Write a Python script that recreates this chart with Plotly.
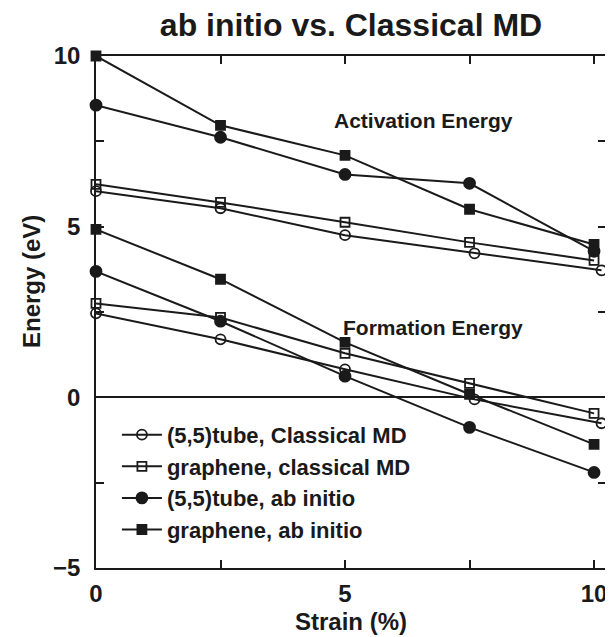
import plotly.graph_objects as go

strain = [0, 2.5, 5, 7.5, 10]
strain_tube_md = [0, 2.5, 5, 7.6, 10.15]

# Activation energies (eV)
act_tube_md = [6.04, 5.54, 4.75, 4.22, 3.72]
act_graph_md = [6.24, 5.71, 5.13, 4.54, 4.01]
act_tube_ai = [8.56, 7.62, 6.53, 6.27, 4.28]
act_graph_ai = [10.0, 7.97, 7.09, 5.51, 4.48]

# Formation energies (eV)
form_tube_md = [2.46, 1.70, 0.82, -0.06, -0.76]
form_graph_md = [2.75, 2.34, 1.29, 0.41, -0.47]
form_tube_ai = [3.69, 2.23, 0.62, -0.88, -2.20]
form_graph_ai = [4.92, 3.46, 1.61, 0.09, -1.38]

names = ["(5,5)tube, Classical MD", "graphene, classical MD",
         "(5,5)tube, ab initio", "graphene, ab initio"]
xs = [strain_tube_md, strain, strain, strain]
acts = [act_tube_md, act_graph_md, act_tube_ai, act_graph_ai]
forms = [form_tube_md, form_graph_md, form_tube_ai, form_graph_ai]
symbols = ["circle-open", "square-open", "circle", "square"]
sizes = [10, 9, 11, 9]

INK = "#1a1a1a"
FONT = "Liberation Sans, Arial, Helvetica, sans-serif"

fig = go.Figure()
for i in range(4):
    for j, ys in enumerate([acts[i], forms[i]]):
        fig.add_trace(go.Scatter(
            x=xs[i], y=ys, mode="lines+markers", name=names[i],
            legendgroup=names[i], showlegend=(j == 0),
            line=dict(color=INK, width=2),
            marker=dict(symbol=symbols[i], size=sizes[i], color=INK,
                        line=dict(color=INK, width=1.8)),
            cliponaxis=False,
        ))

fig.add_annotation(x=6.58, y=8.12, text="Activation Energy", showarrow=False,
                   font=dict(family=FONT, size=21, color=INK, weight="bold"))
fig.add_annotation(x=6.76, y=2.05, text="Formation Energy", showarrow=False,
                   font=dict(family=FONT, size=21, color=INK, weight="bold"))
# y-axis title (placed slightly above the plot centre, as in the reference)
fig.add_annotation(xref="paper", yref="paper", x=-64 / 512, y=0.559,
                   text="Energy (eV)", textangle=-90, showarrow=False,
                   xanchor="center", yanchor="middle",
                   font=dict(family=FONT, size=24, color=INK, weight="bold"))

fig.update_layout(
    width=605, height=629,
    margin=dict(l=88, r=5, t=48, b=69),
    paper_bgcolor="white", plot_bgcolor="white",
    font=dict(family=FONT, color=INK),
    title=dict(text="ab initio vs. Classical MD", x=0.5, xref="paper", xanchor="center",
               y=1 - 17 / 629, yanchor="middle", yref="container",
               font=dict(family=FONT, size=32, color=INK, weight="bold")),
    showlegend=True,
    legend=dict(x=21 / 512, y=0.301, xanchor="left", yanchor="top",
                bgcolor="rgba(0,0,0,0)", tracegroupgap=0, itemwidth=40,
                font=dict(family=FONT, size=22, color=INK, weight="bold")),
)
fig.update_xaxes(
    range=[0, 10.24], tickvals=[0, 2.5, 5, 7.5, 10], ticktext=["0", "", "5", "", "10"],
    ticks="inside", ticklen=8, tickwidth=1.5, tickcolor=INK,
    showline=True, linecolor=INK, linewidth=1.5, mirror="allticks",
    showgrid=False, zeroline=False, ticklabelstandoff=3,
    tickfont=dict(family=FONT, size=24, color=INK, weight="bold"),
    title=dict(text="Strain (%)", standoff=8,
               font=dict(family=FONT, size=24, color=INK, weight="bold")),
)
fig.update_yaxes(
    range=[-5, 10], tickvals=[-5, -2.5, 0, 2.5, 5, 7.5, 10],
    ticktext=["\u22125", "", "0", "", "5", "", "10"],
    ticks="inside", ticklen=8, tickwidth=1.5, tickcolor=INK,
    showline=True, linecolor=INK, linewidth=1.5, mirror="allticks",
    showgrid=False, zeroline=True, zerolinecolor=INK, zerolinewidth=2,
    ticklabelstandoff=9,
    tickfont=dict(family=FONT, size=24, color=INK, weight="bold"),
)

fig.write_html("out.html")
